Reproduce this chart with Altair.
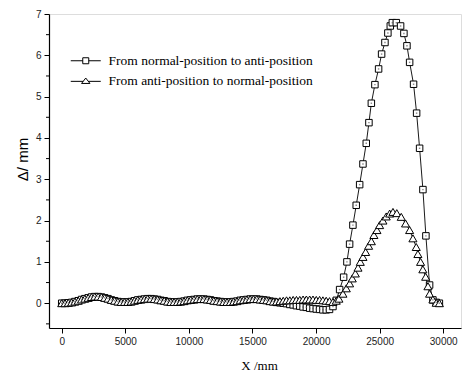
import altair as alt
import pandas as pd

S1 = "From normal-position to anti-position"
S2 = "From anti-position to normal-position"

# shared grid for the low, wavy part (both series overlap here)
GRID_X = [0, 260, 520, 780, 1040, 1300, 1560, 1820, 2080, 2340,
          2600, 2860, 3120, 3380, 3640, 3900, 4160, 4420, 4680, 4940,
          5200, 5460, 5720, 5980, 6240, 6500, 6760, 7020, 7280, 7540,
          7800, 8060, 8320, 8580, 8840, 9100, 9360, 9620, 9880, 10140,
          10400, 10660, 10920, 11180, 11440, 11700, 11960, 12220, 12480, 12740,
          13000, 13260, 13520, 13780, 14040, 14300, 14560, 14820, 15080, 15340,
          15600, 15860, 16120, 16380, 16640, 16900, 17160, 17420, 17680, 17940,
          18200, 18460, 18720, 18980, 19240, 19500, 19760, 20020, 20280, 20540,
          20800, 21060]

WAVE_Y = [0.00, 0.00, 0.01, 0.02, 0.04, 0.06, 0.09, 0.11, 0.13, 0.15,
          0.16, 0.16, 0.15, 0.13, 0.11, 0.08, 0.06, 0.04, 0.03, 0.03,
          0.03, 0.04, 0.06, 0.08, 0.09, 0.10, 0.11, 0.11, 0.10, 0.09,
          0.07, 0.06, 0.04, 0.03, 0.03, 0.03, 0.04, 0.05, 0.07, 0.08,
          0.09, 0.10, 0.10, 0.10, 0.09, 0.08, 0.06, 0.05, 0.04, 0.03,
          0.03, 0.03, 0.04, 0.05, 0.07, 0.08, 0.09, 0.10, 0.10, 0.10,
          0.09, 0.08, 0.07, 0.05, 0.04]

SQ_WAVE_END = [0.02, 0.01, 0.00, -0.01, -0.03, -0.04, -0.06, -0.07, -0.09, -0.10,
               -0.12, -0.13, -0.14, -0.15, -0.16, -0.16, -0.15]
TR_WAVE_END = [0.04, 0.05, 0.06, 0.07, 0.07, 0.08, 0.08, 0.08, 0.09, 0.09,
               0.09, 0.09, 0.08, 0.08, 0.07, 0.06, 0.05]

SQ_PEAK_X = [21330, 21590, 21855, 22170, 22430, 22640, 22900, 23160, 23430, 23690,
             23950, 24160, 24350, 24630, 24920, 25157, 25420, 25650, 25840, 26000,
             26313, 26650, 26910, 27150, 27360, 27670, 27910, 28145, 28405, 28640,
             28930, 29190, 29450, 29700]
SQ_PEAK_Y = [-0.08, 0.07, 0.33, 0.63, 1.00, 1.43, 1.89, 2.37, 2.87, 3.37,
             3.87, 4.37, 4.84, 5.29, 5.67, 6.03, 6.31, 6.54, 6.71, 6.79,
             6.79, 6.71, 6.53, 6.23, 5.83, 5.30, 4.60, 3.75, 2.75, 1.63,
             0.44, 0.08, 0.02, 0.00]

TR_PEAK_X = [21330, 21590, 21800, 22115, 22380, 22640, 22850, 23090, 23300, 23480,
             23690, 23900, 24135, 24350, 24550, 24790, 25000, 25260, 25520, 25790,
             26050, 26350, 26700, 27040, 27360, 27620, 27880, 28010, 28220, 28400,
             28620, 28800, 28930, 29190, 29450, 29700]
TR_PEAK_Y = [0.03, 0.06, 0.11, 0.23, 0.36, 0.48, 0.60, 0.72, 0.86, 1.00,
             1.12, 1.24, 1.39, 1.50, 1.65, 1.77, 1.89, 2.00, 2.10, 2.17,
             2.21, 2.18, 2.09, 1.93, 1.77, 1.57, 1.36, 1.19, 1.00, 0.82,
             0.64, 0.41, 0.23, 0.09, 0.01, 0.00]

X_TICKS = [0, 2500, 5000, 7500, 10000, 12500, 15000, 17500, 20000, 22500,
           25000, 27500, 30000]
Y_TICKS = [0, 1, 2, 3, 4, 5, 6, 7]
Y_MINOR = [-0.5, 0.5, 1.5, 2.5, 3.5, 4.5, 5.5, 6.5]

sq_x = GRID_X + SQ_PEAK_X
sq_y = WAVE_Y + SQ_WAVE_END + SQ_PEAK_Y
tr_x = GRID_X + TR_PEAK_X
tr_y = WAVE_Y + TR_WAVE_END + TR_PEAK_Y

df = pd.concat([
    pd.DataFrame({"x": sq_x, "y": sq_y, "series": S1, "order": range(len(sq_x))}),
    pd.DataFrame({"x": tr_x, "y": tr_y, "series": S2, "order": range(len(tr_x))}),
], ignore_index=True)
minor_df = pd.DataFrame({"y": Y_MINOR})

xscale = alt.Scale(domain=[-1000, 31400], nice=False, zero=False)
yscale = alt.Scale(domain=[-0.6, 7], nice=False, zero=False)

xaxis = alt.Axis(
    values=X_TICKS, format="d", labelOverlap=False,
    labelExpr="datum.value % 5000 === 0 ? format(datum.value, 'd') : ''",
    tickSize={"condition": {"test": "datum.value % 5000 === 0", "value": 5}, "value": 3},
    grid=False, domainColor="black", domainWidth=1.2, tickColor="black",
    labelFont="Liberation Sans", labelFontSize=10, labelColor="#222222", labelPadding=3,
    title="X /mm", titleFont="Liberation Serif", titleFontSize=13,
    titleFontWeight="normal", titleColor="black",
    titleX=210, titleY=37, titleAlign="center", titleBaseline="middle",
)
yaxis = alt.Axis(
    values=Y_TICKS, format="d", labelOverlap=False,
    tickSize=5,
    grid=False, domainColor="black", domainWidth=1.2, tickColor="black",
    labelFont="Liberation Sans", labelFontSize=10, labelColor="#222222", labelPadding=3,
    title="\u0394/ mm", titleFont="Liberation Sans", titleFontSize=15,
    titleFontWeight="normal", titleColor="black",
    titleX=-27, titleY=145, titleAlign="center", titleBaseline="middle",
)

base = alt.Chart(df)

lines = base.mark_line(color="black", strokeWidth=0.9).encode(
    x=alt.X("x:Q", scale=xscale, axis=xaxis),
    y=alt.Y("y:Q", scale=yscale, axis=yaxis),
    detail="series:N",
    order="order:Q",
)

points = base.mark_point(filled=True, fill="white", stroke="black",
                         strokeWidth=1, opacity=1).encode(
    x=alt.X("x:Q", scale=xscale),
    y=alt.Y("y:Q", scale=yscale),
    shape=alt.Shape("series:N", scale=alt.Scale(domain=[S1, S2],
                    range=["square", "triangle-up"]), legend=None),
    size=alt.Size("series:N", scale=alt.Scale(domain=[S1, S2], range=[42, 65]),
                  legend=None),
)

dots = base.transform_filter(alt.datum.series == S1).mark_point(
    filled=True, color="#555555", shape="square", size=2).encode(
    x=alt.X("x:Q", scale=xscale),
    y=alt.Y("y:Q", scale=yscale),
)

# minor ticks of the y axis
minor_ticks = alt.Chart(minor_df).mark_rule(color="black", strokeWidth=1).encode(
    y=alt.Y("y:Q", scale=yscale),
    x=alt.value(-3),
    x2=alt.value(0),
)

SQ_PATH = "M-2.5,0L-0.5,0M0.5,0L2.5,0M-0.5,-0.5L0.5,-0.5L0.5,0.5L-0.5,0.5Z"
TR_PATH = "M-2.5,0.1L-0.43,0.1M0.43,0.1L2.5,0.1M0,-0.45L0.7,0.45L-0.7,0.45Z"

legend_layer = base.mark_point(filled=False, color="black", opacity=0).encode(
    x=alt.X("x:Q", scale=xscale),
    y=alt.Y("y:Q", scale=yscale),
    shape=alt.Shape("series:N",
                    scale=alt.Scale(domain=[S1, S2], range=[SQ_PATH, TR_PATH]),
                    legend=alt.Legend(
                        title=None, orient="none", legendX=30, legendY=40,
                        symbolSize=144, symbolStrokeWidth=1,
                        symbolStrokeColor="black", symbolFillColor="white",
                        symbolOpacity=1, labelFont="Liberation Serif",
                        labelFontSize=13.5, labelColor="black", labelOffset=16,
                        rowPadding=5, padding=0, labelLimit=400)),
)

chart = alt.layer(lines, points, dots, minor_ticks, legend_layer).resolve_scale(
    shape="independent"
).properties(
    width=412, height=314, autosize="none",
    padding={"left": 49, "top": 14, "right": 8, "bottom": 44},
).configure_view(strokeWidth=0).configure(background="white")

chart.save("out.html", embed_options={"renderer": "svg", "actions": False})
